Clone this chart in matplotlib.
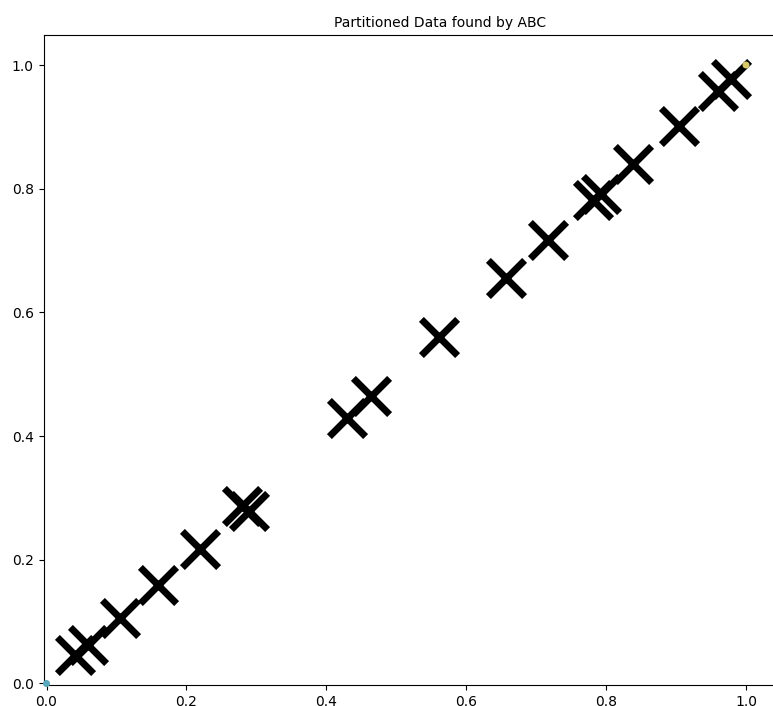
import numpy as np
import matplotlib
matplotlib.use("Agg")
import matplotlib.pyplot as plt

# centroids found by ABC
cx = [0.041, 0.059, 0.105, 0.159, 0.219, 0.280, 0.290, 0.429, 0.464,
      0.561, 0.657, 0.717, 0.781, 0.793, 0.838, 0.904, 0.960, 0.979]
cy = [0.046, 0.062, 0.106, 0.160, 0.217, 0.287, 0.279, 0.429, 0.465,
      0.560, 0.656, 0.717, 0.781, 0.792, 0.840, 0.901, 0.958, 0.977]

# the only visible data points
px = [0.0, 1.0]
py = [0.0, 1.0]
pcol = ['#5aa9bd', '#d8c86a']

fig = plt.figure(figsize=(7.73, 7.06), dpi=100)
# axes runs past the right edge, as in the (cropped) reference
ax = fig.add_axes([0.0563, 0.0298, 1.0252, 0.9206])

ax.scatter(cx, cy, marker='x', c='black', s=680, linewidths=5, zorder=2)
ax.scatter(px, py, c=pcol, s=16, zorder=3, clip_on=False)

ax.set_xlim(-0.0043, 1.1287)
ax.set_ylim(-0.0024, 1.0485)
ax.set_xticks([0.0, 0.2, 0.4, 0.6, 0.8, 1.0])
ax.set_yticks([0.0, 0.2, 0.4, 0.6, 0.8, 1.0])
ax.set_title("Partitioned Data found by ABC", fontsize=10)

fig.savefig("out.png", dpi=100)
